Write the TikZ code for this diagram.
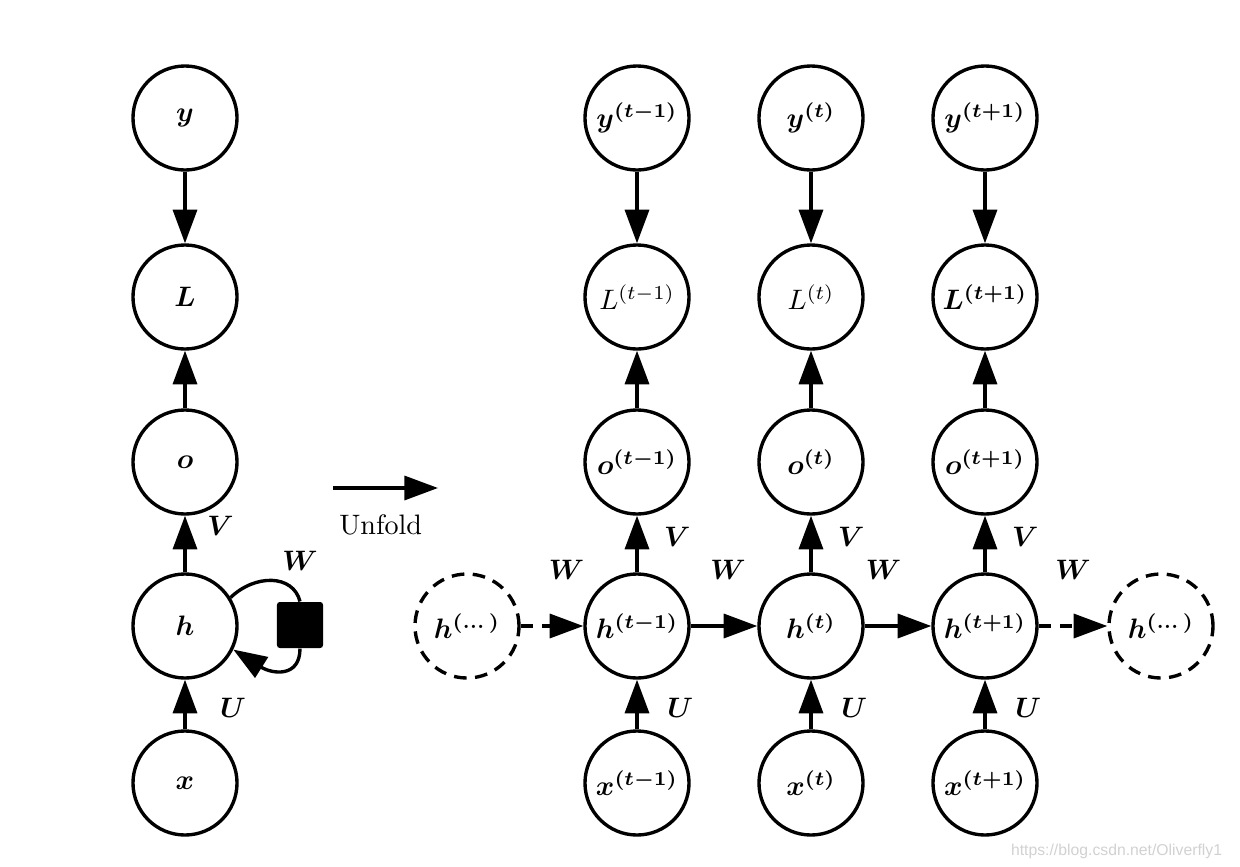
\documentclass[tikz,border=0pt]{standalone}
\usepackage{amsmath}
\usepackage{amssymb}
\usepackage{fontspec}
\newfontfamily\markfont{Liberation Sans}
\usepackage{tikz}
\usetikzlibrary{shapes,arrows.meta,positioning}

\begin{document}
\begin{tikzpicture}[x=0.0125cm, y=-0.0125cm, every node/.style={font=\normalsize}]
    \tikzstyle{unit} = [circle, draw=black, line width=1.2pt, minimum size=1.3cm, inner sep=0pt]
    \tikzstyle{ghost} = [unit, dash pattern=on 4.5pt off 3pt]
    \tikzstyle{link} = [-{Triangle[length=4.2mm,width=3mm]}, line width=1.2pt]
    \tikzstyle{dlink} = [link, dash pattern=on 4.5pt off 3pt]

    \useasboundingbox (0,0) rectangle (1240,867);

    % folded network
    \node (y) [unit] at (185,118) {$\boldsymbol{y}$};
    \node (L) [unit] at (185,297) {$\boldsymbol{L}$};
    \node (o) [unit] at (185,462) {$\boldsymbol{o}$};
    \node (h) [unit] at (185,626) {$\boldsymbol{h}$};
    \node (x) [unit] at (185,783) {$\boldsymbol{x}$};
    \node (delay) [fill=black, minimum size=0.575cm, inner sep=0pt, rounded corners=1pt] at (300,625) {};
    \node (wloop) [above=2.6mm of delay] {$\boldsymbol{W}$};

    \draw [link] (y) -- (L);
    \draw [link] (o) -- (L);
    \draw [link] (h) -- node[pos=0.82, right=1.4mm] {$\boldsymbol{V}$} (o);
    \draw [link] (x) -- node[pos=0.43, right=3mm] {$\boldsymbol{U}$} (h);
    \draw [line width=1.2pt] (h.32) .. controls (255,574) and (293,574) .. (delay.north);
    \draw [link] (delay.south) .. controls (300,678) and (272,674) .. (h.-26);

    % unfold arrow
    \coordinate (u0) at (333,488);
    \coordinate (u1) at (438,488);
    \draw [link] (u0) -- node[below=1.9mm, xshift=-0.6mm] {Unfold} (u1);

    % unfolded network
    \node (yp) [unit] at (637,118) {$\boldsymbol{y^{(t-1)}}$};
    \node (yc) [unit] at (811,118) {$\boldsymbol{y^{(t)}}$};
    \node (yn) [unit] at (985,118) {$\boldsymbol{y^{(t+1)}}$};
    \node (Lp) [unit] at (637,297) {$L^{(t-1)}$};
    \node (Lc) [unit] at (811,297) {$L^{(t)}$};
    \node (Ln) [unit] at (985,297) {$\boldsymbol{L^{(t+1)}}$};
    \node (op) [unit] at (637,462) {$\boldsymbol{o^{(t-1)}}$};
    \node (oc) [unit] at (811,462) {$\boldsymbol{o^{(t)}}$};
    \node (on) [unit] at (985,462) {$\boldsymbol{o^{(t+1)}}$};
    \node (hl) [ghost] at (467,626) {$\boldsymbol{h^{(\dots)}}$};
    \node (hp) [unit] at (637,626) {$\boldsymbol{h^{(t-1)}}$};
    \node (hc) [unit] at (811,626) {$\boldsymbol{h^{(t)}}$};
    \node (hn) [unit] at (985,626) {$\boldsymbol{h^{(t+1)}}$};
    \node (hr) [ghost] at (1161,626) {$\boldsymbol{h^{(\dots)}}$};
    \node (xp) [unit] at (637,783) {$\boldsymbol{x^{(t-1)}}$};
    \node (xc) [unit] at (811,783) {$\boldsymbol{x^{(t)}}$};
    \node (xn) [unit] at (985,783) {$\boldsymbol{x^{(t+1)}}$};

    \draw [link] (yp) -- (Lp);
    \draw [link] (yc) -- (Lc);
    \draw [link] (yn) -- (Ln);
    \draw [link] (op) -- (Lp);
    \draw [link] (oc) -- (Lc);
    \draw [link] (on) -- (Ln);
    \draw [link] (hp) -- node[pos=0.62, right=2mm] {$\boldsymbol{V}$} (op);
    \draw [link] (hc) -- node[pos=0.62, right=2mm] {$\boldsymbol{V}$} (oc);
    \draw [link] (hn) -- node[pos=0.62, right=2mm] {$\boldsymbol{V}$} (on);
    \draw [link] (xp) -- node[pos=0.43, right=2.4mm] {$\boldsymbol{U}$} (hp);
    \draw [link] (xc) -- node[pos=0.43, right=2.4mm] {$\boldsymbol{U}$} (hc);
    \draw [link] (xn) -- node[pos=0.43, right=2.4mm] {$\boldsymbol{U}$} (hn);
    \draw [dlink] (hl) -- node[above=4.4mm, xshift=1.8mm] {$\boldsymbol{W}$} (hp);
    \draw [link] (hp) -- node[above=4.4mm, xshift=0.5mm] {$\boldsymbol{W}$} (hc);
    \draw [link] (hc) -- node[above=4.4mm, xshift=-1.8mm] {$\boldsymbol{W}$} (hn);
    \draw [dlink] (hn) -- node[above=4.4mm] {$\boldsymbol{W}$} (hr);

    % watermark
    \node (mark) [anchor=base east, text=black!18, font=\markfont\fontsize{5.6}{6.5}\selectfont] at (1232,855) {https://blog.csdn.net/Oliverfly1};
\end{tikzpicture}
\end{document}
